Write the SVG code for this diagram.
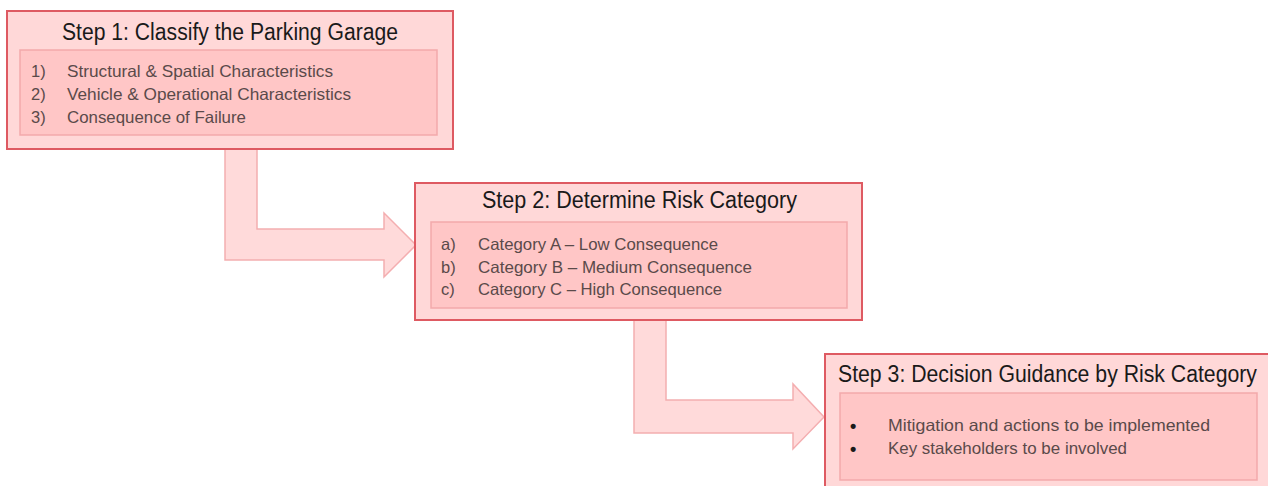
<svg xmlns="http://www.w3.org/2000/svg" width="1268" height="486" viewBox="0 0 1268 486">
<style>
.outer{fill:#FFD8D8;stroke:#DE5A62;stroke-width:2}
.inner{fill:#FFC6C6;stroke:#F3A9AB;stroke-width:1.5}
.arrow{fill:#FFDADA;stroke:#F4AEB0;stroke-width:1.5;stroke-linejoin:miter}
.title{font-family:"Liberation Sans",Arial,sans-serif;font-size:23px;fill:#1A1A1A}
.item{font-family:"Liberation Sans",Arial,sans-serif;font-size:16.5px;fill:#5A4A4A}
.bullet{font-family:"Liberation Sans",Arial,sans-serif;font-size:18px;font-weight:bold;fill:#1A1A1A}
</style>
<rect width="1268" height="486" fill="#FFFFFF"/>
<g id="connectors">
<polygon class="arrow" points="225,149 257,149 257,229 384,229 384,213 416,245 384,277 384,260 225,260"/>
<polygon class="arrow" points="634,320 666,320 666,400 793,400 793,384 824,417 793,449 793,433 634,433"/>
</g>
<g id="step1">
<rect class="outer" x="7" y="11" width="446" height="138"/>
<text class="title" x="62" y="40" textLength="336" lengthAdjust="spacingAndGlyphs">Step 1: Classify the Parking Garage</text>
<rect class="inner" x="20" y="50" width="417" height="85"/>
<text class="item" x="31" y="77">1)</text>
<text class="item" x="67" y="77" textLength="266" lengthAdjust="spacingAndGlyphs">Structural &amp; Spatial Characteristics</text>
<text class="item" x="31" y="100">2)</text>
<text class="item" x="67" y="100" textLength="284" lengthAdjust="spacingAndGlyphs">Vehicle &amp; Operational Characteristics</text>
<text class="item" x="31" y="123">3)</text>
<text class="item" x="67" y="123" textLength="179" lengthAdjust="spacingAndGlyphs">Consequence of Failure</text>
</g>
<g id="step2">
<rect class="outer" x="415" y="183" width="447" height="137"/>
<text class="title" x="482" y="208" textLength="315" lengthAdjust="spacingAndGlyphs">Step 2: Determine Risk Category</text>
<rect class="inner" x="431" y="222" width="416" height="86"/>
<text class="item" x="441" y="250">a)</text>
<text class="item" x="478" y="250" textLength="240" lengthAdjust="spacingAndGlyphs">Category A – Low Consequence</text>
<text class="item" x="441" y="273">b)</text>
<text class="item" x="478" y="273" textLength="274" lengthAdjust="spacingAndGlyphs">Category B – Medium Consequence</text>
<text class="item" x="441" y="295">c)</text>
<text class="item" x="478" y="295" textLength="244" lengthAdjust="spacingAndGlyphs">Category C – High Consequence</text>
</g>
<g id="step3">
<rect class="outer" x="825" y="354" width="450" height="140"/>
<text class="title" x="838" y="382" textLength="419" lengthAdjust="spacingAndGlyphs">Step 3: Decision Guidance by Risk Category</text>
<rect class="inner" x="840" y="393" width="417" height="87"/>
<text class="bullet" x="850" y="432">•</text>
<text class="item" x="888" y="431" textLength="322" lengthAdjust="spacingAndGlyphs">Mitigation and actions to be implemented</text>
<text class="bullet" x="850" y="455">•</text>
<text class="item" x="888" y="454" textLength="239" lengthAdjust="spacingAndGlyphs">Key stakeholders to be involved</text>
</g>
</svg>
